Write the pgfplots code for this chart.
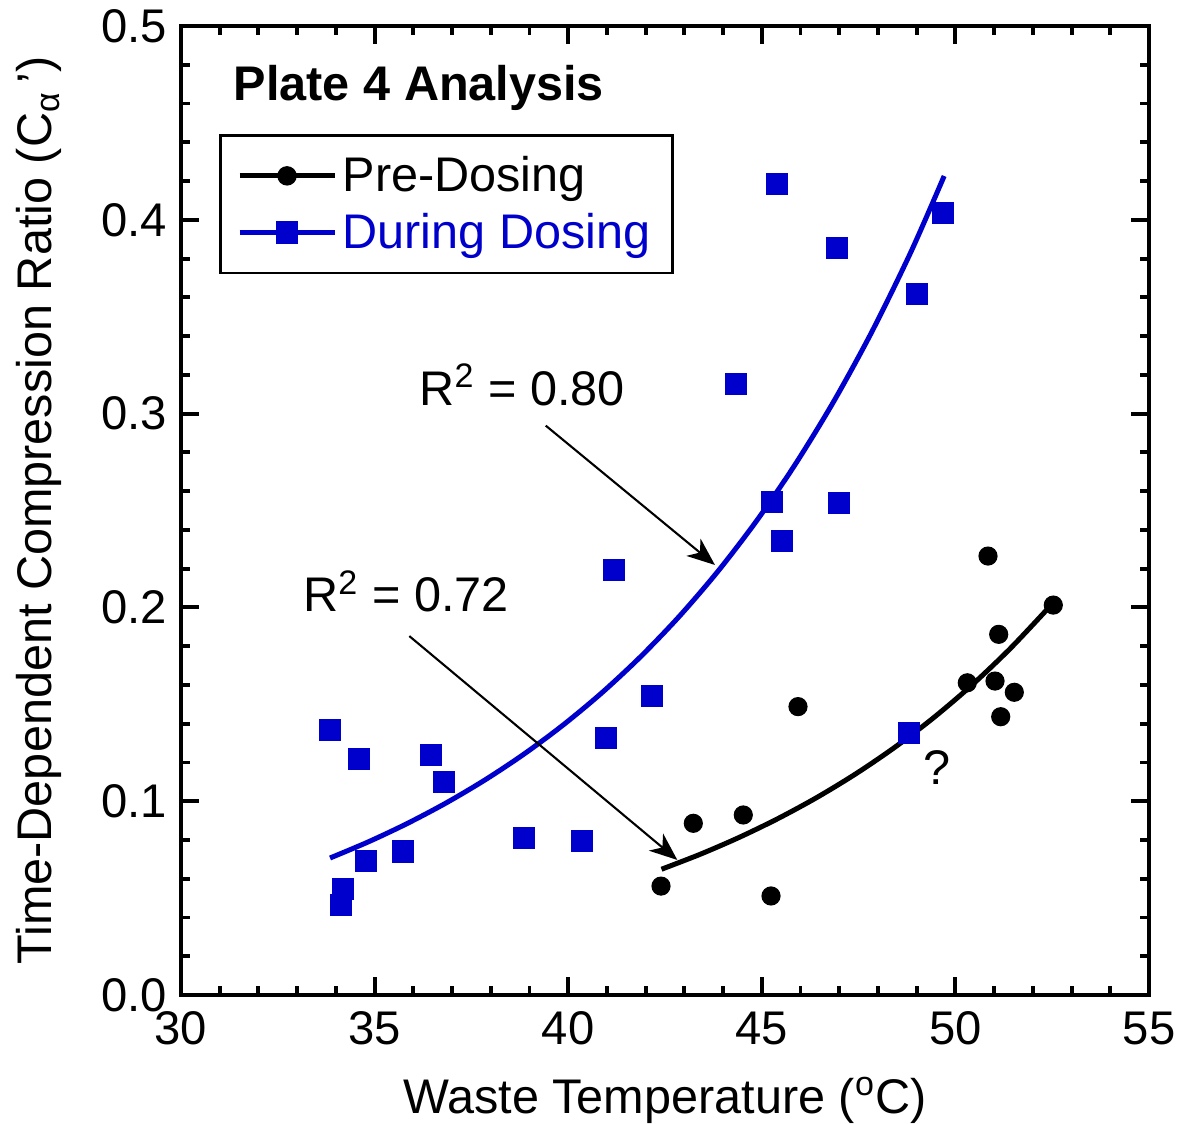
\documentclass[border=0pt]{standalone}
\usepackage{fontspec}
\setmainfont{Liberation Sans}
\usepackage{pgfplots}
\pgfplotsset{compat=1.18}
\usetikzlibrary{arrows.meta}
\definecolor{dblue}{RGB}{0,0,204}
\begin{document}
\begin{tikzpicture}
\begin{axis}[
  scale only axis,
  width=348.48pt, height=348.84pt,
  xmin=30, xmax=55, ymin=0, ymax=0.5,
  xtick={30,35,40,45,50,55},
  xticklabels={30,35,40,45,50,55},
  ytick={0,0.1,0.2,0.3,0.4,0.5},
  yticklabels={0.0,0.1,0.2,0.3,0.4,0.5},
  minor x tick num=4, minor y tick num=4,
  tick align=inside,
  major tick length=6.5pt, minor tick length=3.2pt,
  every tick/.style={black, line width=1.4pt},
  axis line style={line width=1.44pt},
  tick label style={font=\fontsize{17}{20}\selectfont},
  xticklabel style={yshift=-2.5pt},
  yticklabel style={xshift=-1.5pt},
  xlabel={Waste Temperature (\textsuperscript{o}C)},
  ylabel={Time-Dependent Compression Ratio (C\textsubscript{α}\,')},
  every axis x label/.style={at={(axis description cs:0.5,-0.1219)},anchor=base,font=\fontsize{17.5}{21}\selectfont},
  every axis y label/.style={at={(axis description cs:-0.1333,0.5)},anchor=base,rotate=90,font=\fontsize{17.5}{21}\selectfont},
  legend style={at={(axis cs:30.981,0.4443)}, anchor=north west, draw=black, line width=1pt,
    font=\fontsize{17.5}{21}\selectfont, inner xsep=6pt, inner ysep=5.5pt, row sep=2.2pt,
    cells={anchor=west}},
  legend image code/.code={\draw[mark repeat=2,mark phase=2,#1] plot coordinates {(0pt,0pt) (17.1pt,0pt) (34.2pt,0pt)};},
]
\addlegendimage{black, line width=1.8pt, mark=*, mark size=3.25pt, mark options={solid, fill=black, line width=0.5pt}}
\addlegendentry{Pre-Dosing}
\addlegendimage{dblue, line width=1.8pt, mark=square*, mark size=3.8pt, mark options={solid, fill=dblue, line width=0.5pt}}
\addlegendentry{\textcolor{dblue}{During Dosing}}

% fitted curves
\addplot[black, line width=1.8pt, smooth, forget plot] coordinates {
(42.41,0.0649) (43.41,0.07263) (44.41,0.08128) (45.41,0.09096) (46.41,0.10179)
(47.41,0.11391) (48.41,0.12747) (49.41,0.14265) (50.41,0.15964) (51.41,0.17865) (52.36,0.1988)};
\addplot[dblue, line width=1.8pt, smooth, forget plot] coordinates {
(33.85,0.0707) (34.85,0.07913) (35.85,0.08857) (36.85,0.09914) (37.85,0.11097)
(38.85,0.12421) (39.85,0.13903) (40.85,0.15561) (41.85,0.17418) (42.85,0.19496)
(43.85,0.21822) (44.85,0.24425) (45.85,0.27339) (46.85,0.30601) (47.85,0.34251)
(48.85,0.38337) (49.71,0.4226)};

% data
\addplot[only marks, mark=*, mark size=3.25pt, black, forget plot] coordinates {
(50.842,0.2265) (52.528,0.2012) (51.118,0.1861) (50.307,0.1611) (51.023,0.1620)
(51.521,0.1562) (51.170,0.1436) (45.935,0.1488) (43.231,0.0886) (42.397,0.0562)
(44.522,0.0929) (45.238,0.0511)};
\addplot[only marks, mark=square*, mark size=3.8pt, dblue, mark options={fill=dblue}, forget plot] coordinates {
(33.848,0.1367) (34.589,0.1219) (36.457,0.1238) (36.785,0.1099) (34.770,0.0693)
(35.726,0.0741) (34.176,0.0547) (34.140,0.0464) (38.858,0.0812) (40.364,0.0795)
(40.968,0.1328) (41.190,0.2193) (42.164,0.1544) (44.326,0.3151) (45.385,0.4183)
(45.256,0.2545) (45.530,0.2343) (46.934,0.3856) (46.986,0.2537) (49.000,0.3617)
(49.687,0.4034) (48.809,0.1353)};

% annotations
\node[anchor=base west, inner sep=0pt, font=\fontsize{17.5}{21}\selectfont\bfseries] at (axis cs:31.35,0.4618) {Plate 4 Analysis};
\node[anchor=base west, inner sep=0pt, font=\fontsize{17.5}{21}\selectfont] at (axis cs:36.147,0.3044) {R\textsuperscript{2} = 0.80};
\draw[line width=0.75pt, -{Stealth[length=10pt,width=8pt,inset=3pt]}] (axis cs:39.42,0.2938) -- (axis cs:43.79,0.2219);
\node[anchor=base west, inner sep=0pt, font=\fontsize{17.5}{21}\selectfont] at (axis cs:33.143,0.1978) {R\textsuperscript{2} = 0.72};
\draw[line width=0.75pt, -{Stealth[length=10pt,width=8pt,inset=3pt]}] (axis cs:35.897,0.1852) -- (axis cs:42.818,0.0697);
\node[anchor=base west, inner sep=0pt, font=\fontsize{17.5}{21}\selectfont] at (axis cs:49.163,0.1084) {?};

\coordinate (bbsw) at (rel axis cs:-0.18698,-0.13209);
\coordinate (bbne) at (rel axis cs:1.02996,1.02683);
\end{axis}
\pgfresetboundingbox
\useasboundingbox (bbsw) rectangle (bbne);
\end{tikzpicture}
\end{document}
